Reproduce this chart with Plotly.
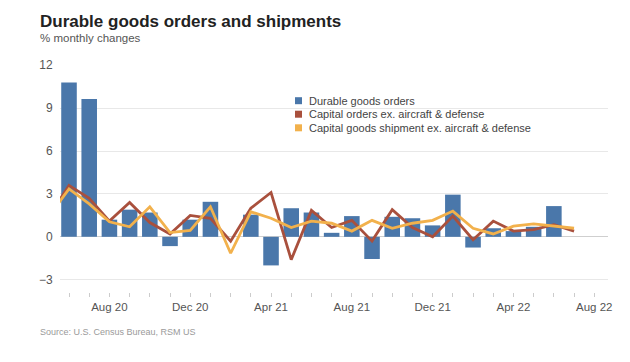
import plotly.graph_objects as go

# ---------------- data ----------------
months = ["May 20", "Jun 20", "Jul 20", "Aug 20", "Sep 20", "Oct 20", "Nov 20", "Dec 20",
          "Jan 21", "Feb 21", "Mar 21", "Apr 21", "May 21", "Jun 21", "Jul 21", "Aug 21",
          "Sep 21", "Oct 21", "Nov 21", "Dec 21", "Jan 22", "Feb 22", "Mar 22", "Apr 22",
          "May 22", "Jun 22", "Jul 22", "Aug 22"]

durable_orders = [None, 10.8, 9.65, 1.2, 1.9, 1.7, -0.65, 1.2,
                  2.45, 0.0, 1.55, -2.0, 2.0, 1.7, 0.28, 1.45,
                  -1.55, 1.4, 1.3, 0.8, 2.95, -0.75, 0.6, 0.4,
                  0.7, 2.15, 0.0, None]

capital_orders = [1.4, 3.6, 2.7, 1.1, 2.4, 1.0, 0.2, 1.5,
                  1.3, -0.3, 2.0, 3.1, -1.6, 1.85, 0.65, 1.15,
                  -0.3, 1.9, 0.65, 0.0, 1.45, -0.2, 1.1, 0.4,
                  0.5, 0.85, 0.4, None]

capital_shipments = [1.45, 3.35, 2.3, 1.05, 0.7, 2.1, 0.3, 0.45,
                     2.1, -1.15, 1.75, 1.3, 0.65, 1.1, 0.95, 0.4,
                     1.15, 0.6, 0.95, 1.15, 1.8, 0.6, 0.2, 0.75,
                     0.9, 0.75, 0.6, None]

series_names = ["Durable goods orders",
                "Capital orders ex. aircraft & defense",
                "Capital goods shipment ex. aircraft & defense"]
series_colors = ["#4a77aa", "#a9503d", "#f2b14c"]

x_tick_labels = ["Aug 20", "Dec 20", "Apr 21", "Aug 21", "Dec 21", "Apr 22", "Aug 22"]
y_ticks = [-3, 0, 3, 6, 9, 12]

title_text = "Durable goods orders and shipments"
subtitle_text = "% monthly changes"
source_text = "Source: U.S. Census Bureau, RSM US"

# ---------------- layout geometry ----------------
# the page body has an 8px margin, so the figure is drawn 8px smaller
# and every screen position below is given in window pixels minus 8.
OFF = 8
W, H = 630 - OFF, 362 - OFF
L, R, T, B = 60 - OFF, 608 - OFF, 65 - OFF, 292 - OFF
FONT = "Liberation Sans, Arial, Helvetica, sans-serif"


def fx(px):
    return (px - OFF - L) / (R - L)


def fy(py):
    return (B - (py - OFF)) / (B - T)


fig = go.Figure()
fig.add_trace(go.Bar(x=months, y=durable_orders, name=series_names[0],
                     marker=dict(color=series_colors[0], line=dict(width=0))))
fig.add_trace(go.Scatter(x=months, y=capital_orders, name=series_names[1], mode="lines",
                         line=dict(color=series_colors[1], width=2.8)))
fig.add_trace(go.Scatter(x=months, y=capital_shipments, name=series_names[2], mode="lines",
                         line=dict(color=series_colors[2], width=2.8)))

ticktext = [m if m in x_tick_labels else "" for m in months]

fig.update_layout(
    width=W, height=H,
    margin=dict(l=L, r=W - R, t=T, b=H - B, pad=0),
    paper_bgcolor="white", plot_bgcolor="white",
    showlegend=False,
    bargap=0.23,
    font=dict(family=FONT, color="#555555"),
    xaxis=dict(type="category", range=[0.554, 27.68],
               tickmode="array", tickvals=months, ticktext=ticktext,
               ticks="outside", ticklen=4, tickcolor="#cccccc", tickwidth=1,
               showgrid=False, showline=False, zeroline=False,
               tickfont=dict(size=11.5, color="#555555")),
    yaxis=dict(range=[-3.86, 12.02], tickmode="array", tickvals=y_ticks,
               ticks="outside", ticklen=4, tickcolor="rgba(0,0,0,0)",
               showgrid=True, gridcolor="#e8e8e8", gridwidth=1,
               zeroline=True, zerolinecolor="#cfcfcf", zerolinewidth=1,
               showline=False, tickfont=dict(size=12, color="#555555")),
)

annotations = [
    dict(text="<b>" + title_text + "</b>", x=fx(38), y=fy(21), xref="paper", yref="paper",
         xanchor="left", yanchor="middle", showarrow=False,
         font=dict(size=17, color="#222222", family=FONT)),
    dict(text=subtitle_text, x=fx(38), y=fy(38), xref="paper", yref="paper",
         xanchor="left", yanchor="middle", showarrow=False,
         font=dict(size=11.5, color="#555555", family=FONT)),
    dict(text=source_text, x=fx(38), y=fy(332), xref="paper", yref="paper",
         xanchor="left", yanchor="middle", showarrow=False,
         font=dict(size=9, color="#9a9a9a", family=FONT)),
]

legend_rows = [100.7, 114.2, 127.8]
shapes = []
for name, color, ry in zip(series_names, series_colors, legend_rows):
    annotations.append(dict(text=name, x=fx(307), y=fy(ry), xref="paper", yref="paper",
                            xanchor="left", yanchor="middle", showarrow=False,
                            font=dict(size=11, color="#444444", family=FONT)))
    shapes.append(dict(type="rect", xref="paper", yref="paper",
                       x0=fx(295), x1=fx(302), y0=fy(ry + 3.5), y1=fy(ry - 3.5),
                       fillcolor=color, line=dict(width=0)))

fig.update_layout(annotations=annotations, shapes=shapes)

fig.write_html("out.html")
